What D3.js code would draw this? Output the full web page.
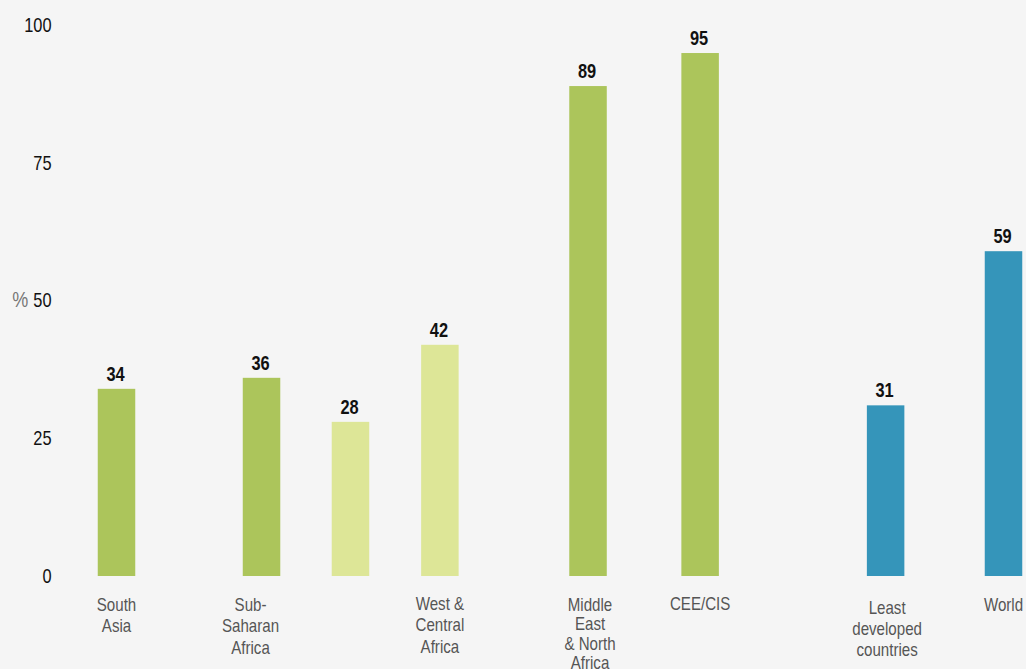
<!DOCTYPE html>
<html><head><meta charset="utf-8">
<script src="https://cdn.jsdelivr.net/npm/d3@7/dist/d3.min.js"></script>
<style>body{margin:0;background:#f5f5f5;overflow:hidden}</style>
</head><body><svg id="c" width="1026" height="669"></svg>
<script>
// ---- data ----
const categories = ["South Asia","Sub-Saharan Africa","Eastern & Southern Africa","West & Central Africa","Middle East & North Africa","CEE/CIS","Least developed countries","World"];
const labelLines = [["South","Asia"],["Sub-","Saharan","Africa"],[],["West &","Central","Africa"],["Middle","East","& North","Africa"],["CEE/CIS"],["Least","developed","countries"],["World"]];
const values = [34,36,28,42,89,95,31,59];
const kinds = ["region","region","subregion","subregion","region","region","aggregate","aggregate"];
const yTicks = [0,25,50,75,100];

// ---- layout ----
const slots = [0, 1.63, 2.63, 3.635, 5.30, 6.56, 8.645, 9.97];
const labelShift = [0, -11, 0, 0, 2, 0, 1.5, 0];
const lineHeights = [21.5, 21.5, 21.5, 22, 19.3, 21.5, 21.5, 21.5];
const labelTop = [611, 611, 611, 609.5, 611, 610, 613.5, 610.5];
const colors = {region:"#acc55b", subregion:"#dde697", aggregate:"#3595ba"};
const font = "'Liberation Sans',Arial,sans-serif";
const narrow = "scale(0.82,1)";

const svg = d3.select("#c");
svg.append("rect").attr("width",1026).attr("height",669).attr("fill","#f5f5f5");

const y = d3.scaleLinear().domain([0,100]).range([576, 25.5]);
const x = d3.scaleLinear().domain([0, 9.97]).range([116.5, 1003.5]);
const bw = 37.5;

// y axis
const yAxis = d3.axisLeft(y).tickValues(yTicks).tickSize(0).tickPadding(0).tickFormat(d3.format("d"));
const gy = svg.append("g").attr("transform","translate(51.5,-1)").call(yAxis);
gy.select(".domain").remove();
gy.selectAll("text").attr("font-family",font).attr("font-size",20).attr("fill","#111")
  .attr("dy","0.36em").attr("transform",narrow);
gy.selectAll(".tick").filter(d=>d===50).select("text").each(function(){
  const t = d3.select(this); t.text("");
  t.append("tspan").attr("fill","#777").attr("font-size",22).text("% ");
  t.append("tspan").text("50");
});

const data = categories.map((c,i)=>({c, v:values[i], k:kinds[i], lines:labelLines[i], i}));

// bars
svg.append("g").selectAll("rect").data(data).join("rect")
  .attr("x", d=>x(slots[d.i]) - bw/2)
  .attr("width", bw)
  .attr("y", d=>y(d.v))
  .attr("height", d=>y(0)-y(d.v))
  .attr("fill", d=>colors[d.k]);

// value labels
svg.append("g").selectAll("g").data(data).join("g")
  .attr("transform", d=>`translate(${x(slots[d.i]) - 1},${y(d.v) - 8})`)
  .append("text")
  .attr("transform", narrow)
  .attr("text-anchor","middle")
  .attr("font-family",font).attr("font-weight","bold").attr("font-size",20).attr("fill","#111")
  .text(d=>d.v);

// category labels
const cl = svg.append("g").selectAll("g").data(data).join("g")
  .attr("transform", d=>`translate(${x(slots[d.i]) + labelShift[d.i]},${labelTop[d.i]})`)
  .append("text")
  .attr("transform", "scale(0.84,1)")
  .attr("text-anchor","middle")
  .attr("font-family",font).attr("font-size",18).attr("fill","#555");
cl.selectAll("tspan").data(d=>d.lines.map((l,j)=>({l,j,d}))).join("tspan")
  .attr("x", 0)
  .attr("dy", t=>t.j===0?0:lineHeights[t.d.i])
  .text(t=>t.l);
</script></body></html>
